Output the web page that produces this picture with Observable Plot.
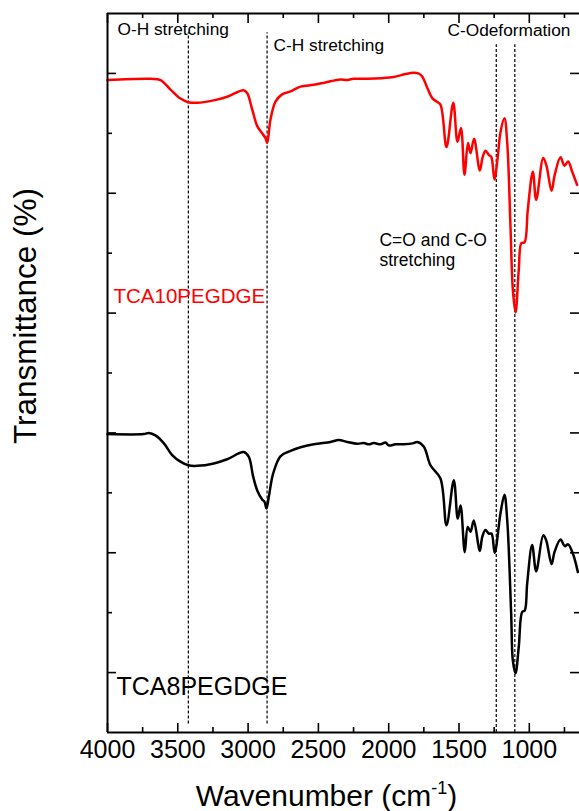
<!DOCTYPE html>
<html><head><meta charset="utf-8">
<script src="https://cdn.jsdelivr.net/npm/d3@7"></script>
<script src="https://cdn.jsdelivr.net/npm/@observablehq/plot@0.6"></script>
<style>html,body{margin:0;padding:0;background:#fff;overflow:hidden}</style>
</head><body><div id="chart"></div>
<script>
// TCA10PEGDGE (red) spectrum
const wnTCA10 = [4000,3694,3623,3552,3481,3426,3362,3246,3149,3033,3006,2971,2935,2900,2876,2864,2841,2805,2758,2698,2627,2533,2450,2343,2300,2250,2153,2050,1964,1880,1822,1790,1762,1726,1691,1660,1632,1589,1541,1511,1486,1461,1436,1418,1393,1352,1333,1312,1288,1271,1248,1224,1205,1177,1157,1134,1117,1098,1075,1056,1034,1011,975,951,901,878,842,819,778,750,724,695,660];
const tTCA10 = [108.9,109.1,108.9,107.3,105.8,105.2,105.1,105.5,106.1,107.2,106.7,104.0,101.2,100.0,99.2,98.4,102.3,105.3,106.5,107.0,107.8,108.1,108.5,109.0,108.9,109.1,109.1,109.2,109.4,109.9,110.1,110.0,109.5,107.6,105.9,105.3,104.8,97.7,105.1,98.6,100.9,93.1,98.4,96.7,99.1,93.8,95.9,97.1,96.4,96.1,92.3,96.2,100.2,102.5,98.4,84.5,73.9,70.1,77.2,81.7,81.8,87.2,93.6,88.9,95.9,94.6,90.4,93.1,96.0,94.6,95.3,93.6,91.4];
// TCA8PEGDGE (black) spectrum
const wnTCA8 = [4000,3742,3706,3659,3600,3540,3481,3426,3362,3244,3149,3031,2995,2964,2935,2900,2883,2869,2853,2822,2770,2698,2627,2533,2414,2355,2295,2224,2177,2142,2106,2058,2023,1999,1952,1893,1822,1797,1750,1703,1632,1589,1537,1509,1489,1459,1438,1418,1395,1352,1335,1312,1288,1269,1246,1205,1177,1157,1129,1117,1098,1075,1051,1032,1015,980,951,901,880,842,821,778,748,724,688,655];
const tTCA8 = [49.8,49.8,50.0,49.6,48.3,46.3,45.2,44.6,44.5,44.9,45.6,46.8,46.0,42.7,40.4,38.9,38.5,37.4,39.3,43.2,46.1,47.0,47.6,48.1,48.5,48.8,48.5,48.2,48.3,48.1,48.3,48.1,48.4,47.9,48.1,48.1,48.3,48.5,47.7,44.6,42.4,34.6,42.1,35.7,37.9,30.1,34.3,33.5,35.4,30.3,32.6,33.8,33.2,33.2,30.0,36.6,39.7,35.4,19.8,12.0,9.9,14.3,20.1,20.4,24.9,31.3,26.9,32.9,32.1,28.1,30.1,32.2,31.1,31.4,29.7,26.8];
// ticks
const xTicksMajor = [4000,3500,3000,2500,2000,1500,1000];
const xTicksMinor = [3750,3250,2750,2250,1750,1250,750];
const yTicksMajor = [10,30,50,70,90,110];
const yTicksMinor = [20,40,60,80,100];
// peak markers and labels
const peakLinesHigh = [3425,2865];
const peakLinesLow = [1235,1103];
const seriesNames = ["TCA10PEGDGE","TCA8PEGDGE"];
const annotations = ["O-H stretching","C-H stretching","C-Odeformation","C=O and C-O\nstretching"];
const xTitle = "Wavenumber (cm-1)";
const yTitle = "Transmittance (%)";

const rows = (w, t) => w.map((x, i) => ({wn: x, t: t[i]}));
const FONT = "'Liberation Sans', Arial, Helvetica, sans-serif";
const W = 579, H = 811, mL = 107, mR = 0, mT = 13, mB = 79;
const fw = W - mL - mR, fh = H - mT - mB;

const chart = Plot.plot({
  width: W, height: H,
  marginLeft: mL, marginRight: mR, marginTop: mT, marginBottom: mB,
  style: {fontFamily: FONT, background: "#fff", color: "#000", overflow: "visible"},
  x: {domain: [4000, 643]},
  y: {domain: [0, 120], axis: null},
  marks: [
    Plot.ruleX(peakLinesHigh, {y1: 1.4, y2: 116.8, stroke: "#000", strokeWidth: 1.2, strokeDasharray: "3,2"}),
    Plot.ruleX(peakLinesLow, {y1: 0, y2: 114.8, stroke: "#000", strokeWidth: 1.2, strokeDasharray: "3,2"}),
    Plot.line(rows(wnTCA10, tTCA10), {x: "wn", y: "t", stroke: "#ff0000", strokeWidth: 2.5, curve: "catmull-rom"}),
    Plot.line(rows(wnTCA8, tTCA8), {x: "wn", y: "t", stroke: "#000", strokeWidth: 2.5, curve: "catmull-rom"}),
    // axis lines
    Plot.ruleY([0], {stroke: "#000", strokeWidth: 2}),
    Plot.ruleY([120], {stroke: "#000", strokeWidth: 2}),
    Plot.ruleX([4000], {stroke: "#000", strokeWidth: 2}),
    // inward ticks
    Plot.tickX(xTicksMajor, {insetTop: fh - 9, stroke: "#000", strokeWidth: 1.6}),
    Plot.tickX(xTicksMinor, {insetTop: fh - 5, stroke: "#000", strokeWidth: 1.6}),
    Plot.tickX(xTicksMajor, {insetBottom: fh - 10, stroke: "#000", strokeWidth: 1.6}),
    Plot.tickX(xTicksMinor, {insetBottom: fh - 5, stroke: "#000", strokeWidth: 1.6}),
    Plot.tickY(yTicksMajor, {insetRight: fw - 9, stroke: "#000", strokeWidth: 1.6}),
    Plot.tickY(yTicksMinor, {insetRight: fw - 5, stroke: "#000", strokeWidth: 1.6}),
    Plot.tickY(yTicksMajor, {insetLeft: fw - 9, stroke: "#000", strokeWidth: 1.6}),
    Plot.tickY(yTicksMinor, {insetLeft: fw - 5, stroke: "#000", strokeWidth: 1.6}),
    Plot.axisX({ticks: xTicksMajor, tickSize: 0, tickPadding: 8, fontSize: 25, tickFormat: d => String(d), label: null, fill: "#000"}),
    // annotations
    Plot.text([annotations[0]], {x: 3929, y: 117.4, text: d => d, textAnchor: "start", fontSize: 17.3, fill: "#000"}),
    Plot.text([annotations[1]], {x: 2819, y: 114.7, text: d => d, textAnchor: "start", fontSize: 17.3, fill: "#000"}),
    Plot.text([annotations[2]], {x: 1582, y: 117.2, text: d => d, textAnchor: "start", fontSize: 17.3, fill: "#000"}),
    Plot.text([annotations[3]], {x: 2066, y: 83.7, text: d => d, textAnchor: "start", lineAnchor: "top", lineHeight: 1.18, fontSize: 17.5, fill: "#000"}),
    Plot.text([seriesNames[0]], {x: 3957, y: 72.8, text: d => d, textAnchor: "start", fontSize: 20.5, fill: "#ff0000"}),
    Plot.text([seriesNames[1]], {x: 3936, y: 7.6, text: d => d, textAnchor: "start", fontSize: 25, fill: "#000"}),
    // axis titles
    Plot.text([xTitle], {frameAnchor: "bottom", textAnchor: "middle", lineAnchor: "middle", dx: -17, dy: 64, text: d => d, fontSize: 30, fill: "#000"}),
    Plot.text([yTitle], {frameAnchor: "left", textAnchor: "middle", lineAnchor: "middle", dx: -82, dy: -57, rotate: -90, text: d => d, fontSize: 31.5, fill: "#000"})
  ]
});
document.getElementById("chart").appendChild(chart);

// superscript for cm-1
d3.select(chart).selectAll("text").filter(function() { return this.textContent === xTitle; })
  .each(function() {
    const t = d3.select(this);
    t.text(null);
    t.append("tspan").text("Wavenumber (cm");
    t.append("tspan").attr("font-size", 18).attr("dy", -12).text("-1");
    t.append("tspan").attr("dy", 12).text(")");
  });
</script>
</body></html>
